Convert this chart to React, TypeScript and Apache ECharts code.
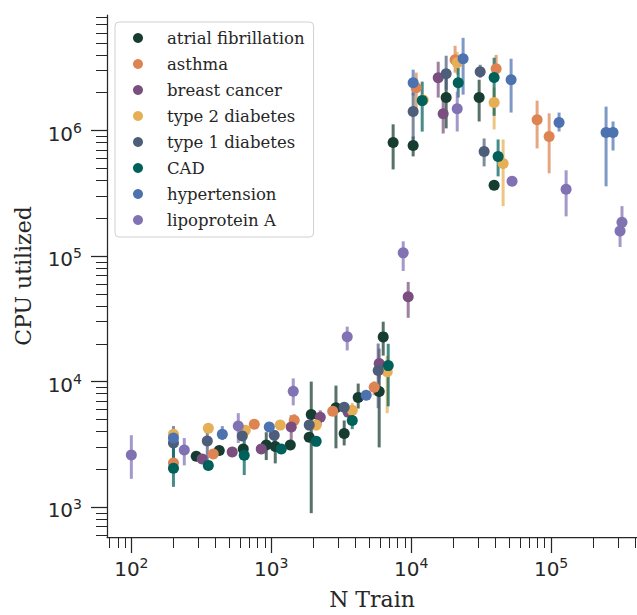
import React, { useEffect, useRef } from "react";
import * as echarts from "echarts";

// ---------------- data ----------------
const seriesNames = [
  "atrial fibrillation",
  "asthma",
  "breast cancer",
  "type 2 diabetes",
  "type 1 diabetes",
  "CAD",
  "hypertension",
  "lipoprotein A",
];
const seriesColors = ["#173c31", "#dd8452", "#7a4e7e", "#e6ae55", "#4d5e7a", "#00605a", "#4c72b0", "#8172b3"];

// atrial fibrillation
const afX = [291, 425, 631, 921, 1068, 1368, 1868, 1931, 2900, 3321, 4182, 5906, 6310, 7430, 10330, 17780, 30600, 39150];
const afY = [2540, 2830, 2900, 3120, 3040, 3120, 3600, 5470, 6200, 3860, 7460, 8340, 22700, 803000, 760000, 1830000, 1830000, 366000];
const afLo = [2540, 2830, 2900, 2370, 2230, 3120, 3600, 895, 2940, 3100, 6100, 2990, 16100, 490000, 622000, 1040000, 1180000, 366000];
const afHi = [2540, 2830, 2900, 3950, 3550, 3120, 3600, 10000, 9290, 4900, 9640, 12700, 30000, 1120000, 896000, 2600000, 2540000, 366000];

// asthma
const asX = [200, 385, 756, 1459, 2750, 5440, 10860, 20600, 40470, 79430, 96830];
const asY = [2245, 2647, 4580, 4920, 5800, 9000, 2190000, 3660000, 3100000, 1220000, 896000];
const asLo = [2245, 2647, 4580, 4250, 5800, 7760, 1470000, 2890000, 2600000, 720000, 456000];
const asHi = [2245, 2647, 4580, 5500, 5800, 10050, 2890000, 4730000, 4000000, 1730000, 1370000];

// breast cancer
const bcX = [321, 526, 848, 1389, 2240, 3548, 5906, 9520, 15600, 16930];
const bcY = [2420, 2750, 2900, 4340, 5200, 5700, 13940, 47400, 2630000, 1360000];
const bcLo = [2420, 2750, 2900, 3420, 4480, 5700, 10600, 32200, 1830000, 947000];
const bcHi = [2420, 2750, 2900, 5390, 5900, 5700, 18300, 62200, 3530000, 1930000];

// type 2 diabetes
const t2X = [200, 355, 652, 1159, 2094, 3793, 6740, 12190, 21330, 39150, 45400];
const t2Y = [3810, 4250, 4100, 4500, 4500, 5920, 12000, 1750000, 3460000, 1670000, 547000];
const t2Lo = [3810, 4250, 4100, 4500, 4500, 5300, 5600, 1750000, 2800000, 1020000, 250000];
const t2Hi = [3810, 4250, 4100, 4500, 4500, 6750, 16000, 1750000, 4230000, 2200000, 849000];

// type 1 diabetes
const t1X = [200, 349, 621, 1050, 1868, 3321, 5810, 10330, 17780, 31120, 33210];
const t1Y = [3240, 3360, 3680, 3740, 4500, 6250, 12270, 1420000, 2830000, 2940000, 681000];
const t1Lo = [2330, 2370, 3680, 3110, 4500, 6250, 6140, 849000, 2110000, 2630000, 518000];
const t1Hi = [4420, 4250, 3680, 3950, 4500, 6250, 20100, 2000000, 3940000, 3340000, 864000];

// CAD
const cadX = [200, 355, 641, 1179, 2094, 3793, 6854, 11990, 21680, 39150, 41800];
const cadY = [2040, 2150, 2590, 2900, 3340, 4900, 13400, 1730000, 2400000, 2640000, 622000];
const cadLo = [1450, 2150, 1800, 2900, 3340, 4180, 6350, 980000, 1830000, 1310000, 431000];
const cadHi = [3300, 2150, 3550, 2900, 3340, 5600, 20000, 2450000, 3160000, 3800000, 849000];

// hypertension
const htX = [200, 447, 968, 4770, 10330, 23500, 51760, 114000, 247000, 277000];
const htY = [3550, 3810, 4340, 7790, 2400000, 3730000, 2540000, 1160000, 964000, 964000];
const htLo = [3550, 3420, 4340, 7790, 1900000, 1930000, 1390000, 982000, 359000, 693000];
const htHi = [3550, 4420, 4340, 7790, 3050000, 5470000, 3730000, 1390000, 1550000, 1180000];

// lipoprotein A
const lpX = [100, 239, 581, 1436, 3490, 8770, 21330, 52600, 128000, 311000, 321000];
const lpY = [2600, 2850, 4420, 8360, 22800, 106000, 1490000, 394000, 341000, 158000, 186000];
const lpLo = [1680, 2150, 3240, 6470, 17700, 76000, 982000, 394000, 207000, 118000, 160000];
const lpHi = [3740, 3550, 5600, 10600, 27400, 131000, 2040000, 394000, 482000, 200000, 250000];

const allX = [afX, asX, bcX, t2X, t1X, cadX, htX, lpX];
const allY = [afY, asY, bcY, t2Y, t1Y, cadY, htY, lpY];
const allLo = [afLo, asLo, bcLo, t2Lo, t1Lo, cadLo, htLo, lpLo];
const allHi = [afHi, asHi, bcHi, t2Hi, t1Hi, cadHi, htHi, lpHi];

// ticks
const xMin = 67;
const xMax = 411000;
const yMin = 578;
const yMax = 8320000;
const xMajorTicks = [100, 1000, 10000, 100000];
const xMinorTicks = [70, 80, 90, 200, 300, 400, 500, 600, 700, 800, 900, 2000, 3000, 4000, 5000, 6000, 7000, 8000, 9000,
  20000, 30000, 40000, 50000, 60000, 70000, 80000, 90000, 200000, 300000, 400000];
const yMajorTicks = [1000, 10000, 100000, 1000000];
const yMinorTicks = [600, 700, 800, 900, 2000, 3000, 4000, 5000, 6000, 7000, 8000, 9000,
  20000, 30000, 40000, 50000, 60000, 70000, 80000, 90000,
  200000, 300000, 400000, 500000, 600000, 700000, 800000, 900000,
  2000000, 3000000, 4000000, 5000000, 6000000, 7000000, 8000000];

const INK = "#262626";

const labelRich = {
  b: { fontSize: 20, fontFamily: "DejaVu Sans", color: INK, lineHeight: 26 },
  s: { fontSize: 14, fontFamily: "DejaVu Sans", color: INK, verticalAlign: "top" },
};
const powFormatter = (v: number) => `{b|10}{s|${Math.round(Math.log10(v))}}`;

export default function App() {
  const ref = useRef<HTMLDivElement>(null);
  useEffect(() => {
    if (!ref.current) return;
    const chart = echarts.init(ref.current, null, { renderer: "svg" });

    const series: any[] = [];
    seriesNames.forEach((name, si) => {
      const color = seriesColors[si];
      const xs = allX[si];
      series.push({
        type: "custom",
        name: name + " err",
        xAxisIndex: 0,
        yAxisIndex: 0,
        encode: { x: 0, y: [1, 2] },
        data: xs.map((x, i) => [x, allLo[si][i], allHi[si][i]]),
        renderItem: (params: any, api: any) => {
          const x = api.value(0);
          const lo = api.value(1);
          const hi = api.value(2);
          if (lo === hi) return { type: "group", children: [] };
          const p1 = api.coord([x, lo]);
          const p2 = api.coord([x, hi]);
          return {
            type: "line",
            shape: { x1: p1[0], y1: p1[1], x2: p2[0], y2: p2[1] },
            style: { stroke: color, lineWidth: 3, opacity: 0.72 },
          };
        },
      });
      series.push({
        type: "scatter",
        name,
        xAxisIndex: 0,
        yAxisIndex: 0,
        symbol: "circle",
        symbolSize: 11,
        itemStyle: { color, opacity: 1 },
        data: xs.map((x, i) => [x, allY[si][i]]),
      });
    });

    chart.setOption({
      animation: false,
      backgroundColor: "#ffffff",
      grid: { left: 107, right: 0, top: 15, bottom: 76, containLabel: false },
      legend: {
        data: seriesNames.map((n) => ({ name: n, icon: "circle" })),
        orient: "vertical",
        left: 115,
        top: 22,
        padding: [7, 9, 8, 18],
        itemWidth: 10,
        itemHeight: 10,
        itemGap: 8,
        textStyle: {
          fontFamily: "DejaVu Serif",
          fontSize: 16.5,
          color: INK,
          lineHeight: 18,
          padding: [0, 0, 0, 19],
        },
        borderColor: "#d0d0d0",
        borderWidth: 1,
        borderRadius: 4,
        backgroundColor: "rgba(255,255,255,0.8)",
      },
      xAxis: [
        {
          type: "log",
          min: xMin,
          max: xMax,
          position: "bottom",
          name: "N Train",
          nameLocation: "middle",
          nameGap: 51,
          nameTextStyle: { fontFamily: "DejaVu Serif", fontSize: 22, color: INK },
          axisLine: { show: true, onZero: false, lineStyle: { color: INK, width: 1.25 } },
          axisTick: { show: true, length: 16, customValues: xMajorTicks, lineStyle: { color: INK, width: 1.25 } },
          axisLabel: { show: true, customValues: xMajorTicks, margin: 19, formatter: powFormatter, rich: labelRich },
          splitLine: { show: false },
        },
        {
          type: "log",
          min: xMin,
          max: xMax,
          position: "bottom",
          axisLine: { show: false, onZero: false },
          axisTick: { show: true, length: 11, customValues: xMinorTicks, lineStyle: { color: INK, width: 1 } },
          axisLabel: { show: false },
          splitLine: { show: false },
        },
      ],
      yAxis: [
        {
          type: "log",
          min: yMin,
          max: yMax,
          position: "left",
          name: "CPU utilized",
          nameLocation: "middle",
          nameGap: 73,
          nameTextStyle: { fontFamily: "DejaVu Serif", fontSize: 22, color: INK },
          axisLine: { show: true, onZero: false, lineStyle: { color: INK, width: 1.25 } },
          axisTick: { show: true, length: 16, customValues: yMajorTicks, lineStyle: { color: INK, width: 1.25 } },
          axisLabel: { show: true, customValues: yMajorTicks, margin: 25, padding: [6, 0, 0, 0], formatter: powFormatter, rich: labelRich },
          splitLine: { show: false },
        },
        {
          type: "log",
          min: yMin,
          max: yMax,
          position: "left",
          axisLine: { show: false, onZero: false },
          axisTick: { show: true, length: 11, customValues: yMinorTicks, lineStyle: { color: INK, width: 1 } },
          axisLabel: { show: false },
          splitLine: { show: false },
        },
      ],
      series,
    });
    return () => chart.dispose();
  }, []);
  return <div ref={ref} style={{ position: "fixed", left: 0, top: 0, width: 637, height: 615 }} />;
}
